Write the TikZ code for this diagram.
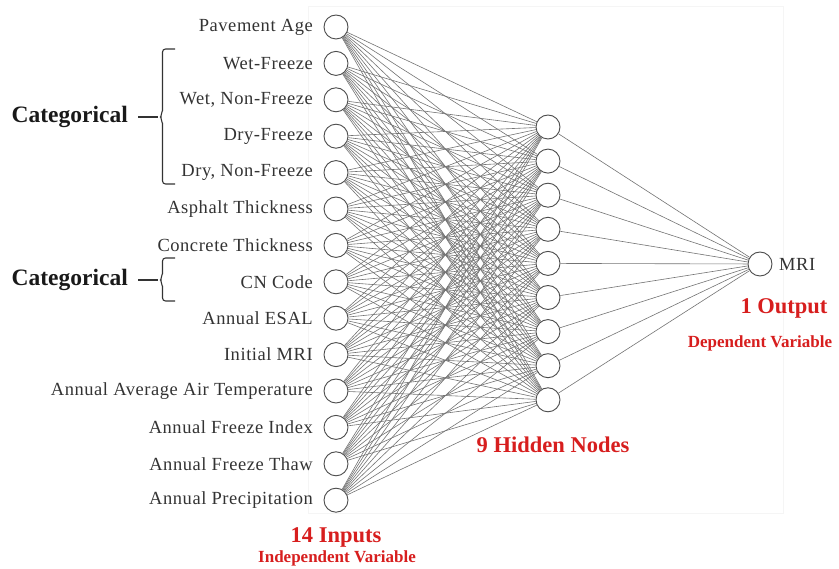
\documentclass[tikz,border=0pt]{standalone}
\usepackage{fontspec}
\setmainfont{Liberation Serif}
\newfontfamily\lblfont[LetterSpace=3]{Liberation Serif}
\begin{document}
\begin{tikzpicture}[x=1pt,y=-1pt,
  neuron/.style={circle,draw=black!70,line width=0.9pt,fill=white,minimum size=24pt,inner sep=0pt},
  inlabel/.style={anchor=east,inner sep=0pt,text=black!80,font=\lblfont\fontsize{18.5}{18.5}\selectfont},
  catlabel/.style={anchor=east,inner sep=0pt,text=black!90,font=\fontsize{23.5}{23.5}\selectfont\bfseries},
  redbig/.style={inner sep=0pt,text=redtxt,font=\fontsize{22.5}{22.5}\selectfont\bfseries},
  redsmall/.style={inner sep=0pt,text=redtxt,font=\fontsize{17}{17}\selectfont\bfseries},
  wire/.style={draw=black!55,line width=0.6pt},
  bracepath/.style={draw=black!80,line width=1.1pt}]
\definecolor{redtxt}{RGB}{215,30,30}
\useasboundingbox (0,0) rectangle (839,569);

% faint frame behind the network
\draw[black!4,line width=0.8pt] (308,6) rectangle (783,513);

% input layer
\foreach \i/\t in {1/Pavement Age,2/Wet-Freeze,3/{Wet, Non-Freeze},4/Dry-Freeze,
  5/{Dry, Non-Freeze},6/Asphalt Thickness,7/Concrete Thickness,8/CN Code,
  9/Annual ESAL,10/Initial MRI,11/Annual Average Air Temperature,
  12/Annual Freeze Index,13/Annual Freeze Thaw,14/Annual Precipitation}{
  \pgfmathsetmacro{\yy}{27+(\i-1)*36.4}
  \node[neuron] (in\i) at (336,\yy) {};
  \node[inlabel] (lab\i) at (313,\yy) {\t};
}

% hidden layer
\foreach \j in {1,...,9}{
  \pgfmathsetmacro{\yy}{127+(\j-1)*34.1}
  \node[neuron] (h\j) at (548,\yy) {};
}

% output layer
\node[neuron] (out) at (760,264) {};
\node[anchor=west,inner sep=0pt,text=black!80,font=\lblfont\fontsize{18.5}{18.5}\selectfont] (mri) at (779,264) {MRI};

% connections
\foreach \i in {1,...,14}{
  \foreach \j in {1,...,9}{
    \draw[wire] (in\i) -- (h\j);
  }
}
\foreach \j in {1,...,9}{
  \draw[wire] (h\j) -- (out);
}

% category braces
\node[catlabel] (cat1) at (128,117) {Categorical};
\node[catlabel] (cat2) at (128,280) {Categorical};
\coordinate (b1) at (158,117);
\coordinate (b2) at (158,280);
\draw[bracepath] (cat1.east) ++(10,0) -- (b1);
\draw[bracepath] (cat2.east) ++(10,0) -- (b2);
\draw[bracepath,rounded corners=3pt] (175,49) -- (162.5,49) -- (162.5,113)
  to[out=90,in=0] (b1) to[out=0,in=-90] (162.5,121) -- (162.5,184) -- (175,184);
\draw[bracepath,rounded corners=3pt] (175,258) -- (162.5,258) -- (162.5,276)
  to[out=90,in=0] (b2) to[out=0,in=-90] (162.5,284) -- (162.5,301) -- (175,301);

% layer captions
\node[redbig] (capin) at (336,537) {14 Inputs};
\node[redsmall] (capin2) at (337,558) {Independent Variable};
\node[redbig] (caphid) at (553,445) {9 Hidden Nodes};
\node[redbig] (capout) at (784,308) {1 Output};
\node[redsmall] (capout2) at (760,343) {Dependent Variable};
\end{tikzpicture}
\end{document}
